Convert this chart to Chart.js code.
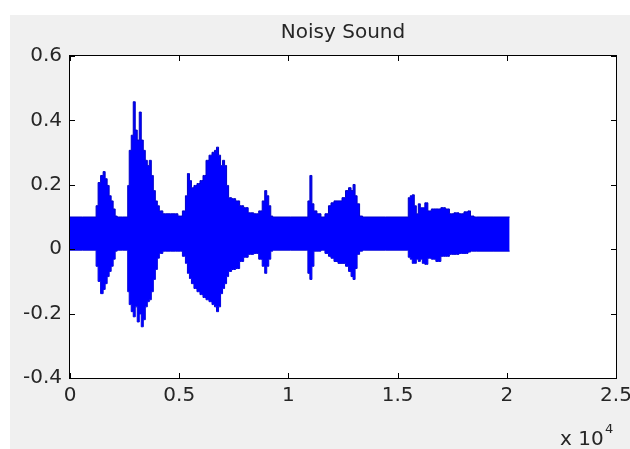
<!DOCTYPE html>
<html>
<head>
<meta charset="utf-8">
<script src="https://cdn.jsdelivr.net/npm/chart.js@4.4.0/dist/chart.umd.min.js"></script>
<style>
  html, body { margin: 0; padding: 0; background: #ffffff; }
  #wrap { position: relative; width: 630px; height: 449px; }
  canvas { display: block; }
</style>
</head>
<body>
<div id="wrap"><canvas id="grafico" width="630" height="449"></canvas></div>
<script>
// envelope of the waveform (sample index, max, min)
const sampleIdx = [0, 1149, 1241, 1333, 1471, 1563, 1655, 1746, 1838, 1930, 2022, 2114, 2206, 2620, 2666, 2758, 2850, 2941, 3033, 3125, 3217, 3309, 3401, 3493, 3585, 3677, 3769, 3861, 3953, 4044, 4136, 4366, 4826, 5056, 5239, 5331, 5423, 5515, 5607, 5745, 5883, 6021, 6159, 6297, 6434, 6572, 6664, 6756, 6848, 6940, 7032, 7124, 7216, 7308, 7491, 7675, 7859, 8043, 8273, 8549, 8732, 8870, 8962, 9054, 9146, 9238, 9330, 10847, 10938, 11030, 11122, 11214, 11398, 11582, 11766, 11904, 11996, 12179, 12363, 12547, 12685, 12823, 12915, 13007, 13099, 13191, 13328, 13466, 15443, 15534, 15626, 15718, 15810, 15902, 15994, 16086, 16178, 16316, 16454, 16638, 16867, 17097, 17281, 17465, 17695, 17924, 18154, 18292, 18384, 18614, 20130];
const upperEnv = [0.100, 0.100, 0.135, 0.207, 0.229, 0.241, 0.219, 0.198, 0.166, 0.150, 0.125, 0.103, 0.100, 0.100, 0.198, 0.307, 0.354, 0.458, 0.370, 0.339, 0.426, 0.339, 0.307, 0.276, 0.260, 0.276, 0.229, 0.182, 0.150, 0.135, 0.119, 0.110, 0.110, 0.103, 0.119, 0.166, 0.235, 0.213, 0.191, 0.198, 0.204, 0.213, 0.229, 0.276, 0.292, 0.301, 0.307, 0.317, 0.292, 0.260, 0.276, 0.260, 0.198, 0.160, 0.157, 0.150, 0.135, 0.129, 0.113, 0.110, 0.119, 0.150, 0.182, 0.166, 0.135, 0.103, 0.100, 0.100, 0.150, 0.229, 0.141, 0.119, 0.110, 0.100, 0.110, 0.135, 0.144, 0.150, 0.150, 0.160, 0.182, 0.191, 0.182, 0.201, 0.166, 0.141, 0.103, 0.100, 0.100, 0.160, 0.166, 0.169, 0.135, 0.110, 0.141, 0.129, 0.129, 0.144, 0.119, 0.125, 0.125, 0.129, 0.125, 0.110, 0.113, 0.110, 0.116, 0.119, 0.103, 0.100, 0.100];
const lowerEnv = [-0.003, -0.003, -0.053, -0.100, -0.138, -0.125, -0.107, -0.085, -0.069, -0.053, -0.031, -0.006, -0.003, -0.003, -0.132, -0.172, -0.194, -0.210, -0.179, -0.226, -0.201, -0.241, -0.219, -0.179, -0.163, -0.157, -0.132, -0.094, -0.063, -0.028, -0.013, -0.006, -0.006, -0.006, -0.022, -0.044, -0.075, -0.091, -0.107, -0.122, -0.132, -0.141, -0.150, -0.157, -0.163, -0.172, -0.179, -0.194, -0.179, -0.138, -0.122, -0.107, -0.085, -0.069, -0.063, -0.060, -0.038, -0.025, -0.016, -0.013, -0.031, -0.053, -0.075, -0.053, -0.031, -0.006, -0.003, -0.003, -0.075, -0.094, -0.053, -0.006, -0.006, -0.003, -0.013, -0.022, -0.028, -0.038, -0.044, -0.044, -0.053, -0.069, -0.085, -0.094, -0.060, -0.016, -0.006, -0.003, -0.003, -0.025, -0.031, -0.044, -0.044, -0.031, -0.038, -0.031, -0.044, -0.047, -0.028, -0.031, -0.038, -0.022, -0.022, -0.016, -0.016, -0.013, -0.013, -0.009, -0.006, -0.006, -0.006];

const xTicks = [0, 5000, 10000, 15000, 20000, 25000];
const yTicks = [-0.4, -0.2, 0, 0.2, 0.4, 0.6];
const titulo = "Noisy Sound";
const fatorX = "x 10";
const expoenteX = "4";

const fonte = "'DejaVu Sans', sans-serif";
const corTexto = "#262626";

// gray figure background, white axes, black box, inward ticks
const matlabLook = {
    id: "matlabLook",
    beforeDraw(chart) {
        const ctx = chart.ctx;
        const a = chart.chartArea;
        ctx.save();
        ctx.fillStyle = "#ffffff";
        ctx.fillRect(0, 0, chart.width, chart.height);
        ctx.fillStyle = "#f0f0f0";
        ctx.fillRect(10, 15, chart.width - 10, chart.height - 15);
        ctx.fillStyle = "#ffffff";
        ctx.fillRect(a.left, a.top, a.right - a.left, a.bottom - a.top);
        ctx.restore();
    },
    afterDraw(chart) {
        const ctx = chart.ctx;
        const a = chart.chartArea;
        const sx = chart.scales.x;
        const sy = chart.scales.y;
        const l = Math.round(a.left), r = Math.round(a.right);
        const t = Math.round(a.top), b = Math.round(a.bottom);
        ctx.save();
        ctx.fillStyle = "#000000";
        ctx.fillRect(l - 1, t - 1, r - l + 2, 1);
        ctx.fillRect(l - 1, b, r - l + 2, 1);
        ctx.fillRect(l - 1, t - 1, 1, b - t + 2);
        ctx.fillRect(r, t - 1, 1, b - t + 2);
        xTicks.forEach(v => {
            const px = Math.round(sx.getPixelForValue(v));
            ctx.fillRect(px, b - 5, 1, 5);
            ctx.fillRect(px, t, 1, 5);
        });
        yTicks.forEach(v => {
            const py = Math.round(sy.getPixelForValue(v));
            ctx.fillRect(l, py, 5, 1);
            ctx.fillRect(r - 5, py, 5, 1);
        });
        ctx.fillStyle = corTexto;
        ctx.font = "20px " + fonte;
        ctx.textAlign = "left";
        ctx.textBaseline = "alphabetic";
        ctx.fillText(fatorX, 560, 445);
        ctx.font = "13px " + fonte;
        ctx.fillText(expoenteX, 605, 433);
        ctx.restore();
    }
};

new Chart(document.getElementById("grafico").getContext("2d"), {
    type: "line",
    data: {
        datasets: [{
            label: "max",
            data: sampleIdx.map((s, i) => ({ x: s, y: upperEnv[i] })),
            borderColor: "#0000c8",
            borderWidth: 1,
            backgroundColor: "#0000ff",
            fill: "+1",
            pointRadius: 0,
            stepped: "middle"
        }, {
            label: "min",
            data: sampleIdx.map((s, i) => ({ x: s, y: lowerEnv[i] })),
            borderColor: "#0000c8",
            borderWidth: 1,
            backgroundColor: "#0000ff",
            fill: false,
            pointRadius: 0,
            stepped: "middle"
        }]
    },
    options: {
        responsive: false,
        animation: false,
        devicePixelRatio: 1,
        layout: { padding: { top: 0, right: 14, bottom: 0, left: 0 } },
        plugins: {
            legend: { display: false },
            tooltip: { enabled: false },
            title: {
                display: true,
                text: titulo,
                fullSize: false,
                color: corTexto,
                font: { family: fonte, size: 20, weight: "normal", lineHeight: 1.2 },
                padding: { top: 21, bottom: 11 }
            }
        },
        scales: {
            x: {
                type: "linear",
                min: 0,
                max: 25000,
                afterBuildTicks: s => { s.ticks = xTicks.map(v => ({ value: v })); },
                afterFit: s => { s.height = 71; s.paddingLeft = 0; s.paddingRight = 0; },
                grid: { display: false, drawTicks: false },
                border: { display: false },
                ticks: {
                    color: corTexto,
                    font: { family: fonte, size: 20 },
                    padding: 6,
                    maxRotation: 0,
                    callback: v => String(v / 10000)
                }
            },
            y: {
                min: -0.4,
                max: 0.6,
                afterBuildTicks: s => { s.ticks = yTicks.map(v => ({ value: v })); },
                afterFit: s => { s.width = 70; s.paddingTop = 0; s.paddingBottom = 0; },
                grid: { display: false, drawTicks: false },
                border: { display: false },
                ticks: {
                    color: corTexto,
                    font: { family: fonte, size: 20 },
                    padding: 8,
                    callback: v => String(Number(v.toFixed(1)))
                }
            }
        }
    },
    plugins: [matlabLook]
});
</script>
</body>
</html>
